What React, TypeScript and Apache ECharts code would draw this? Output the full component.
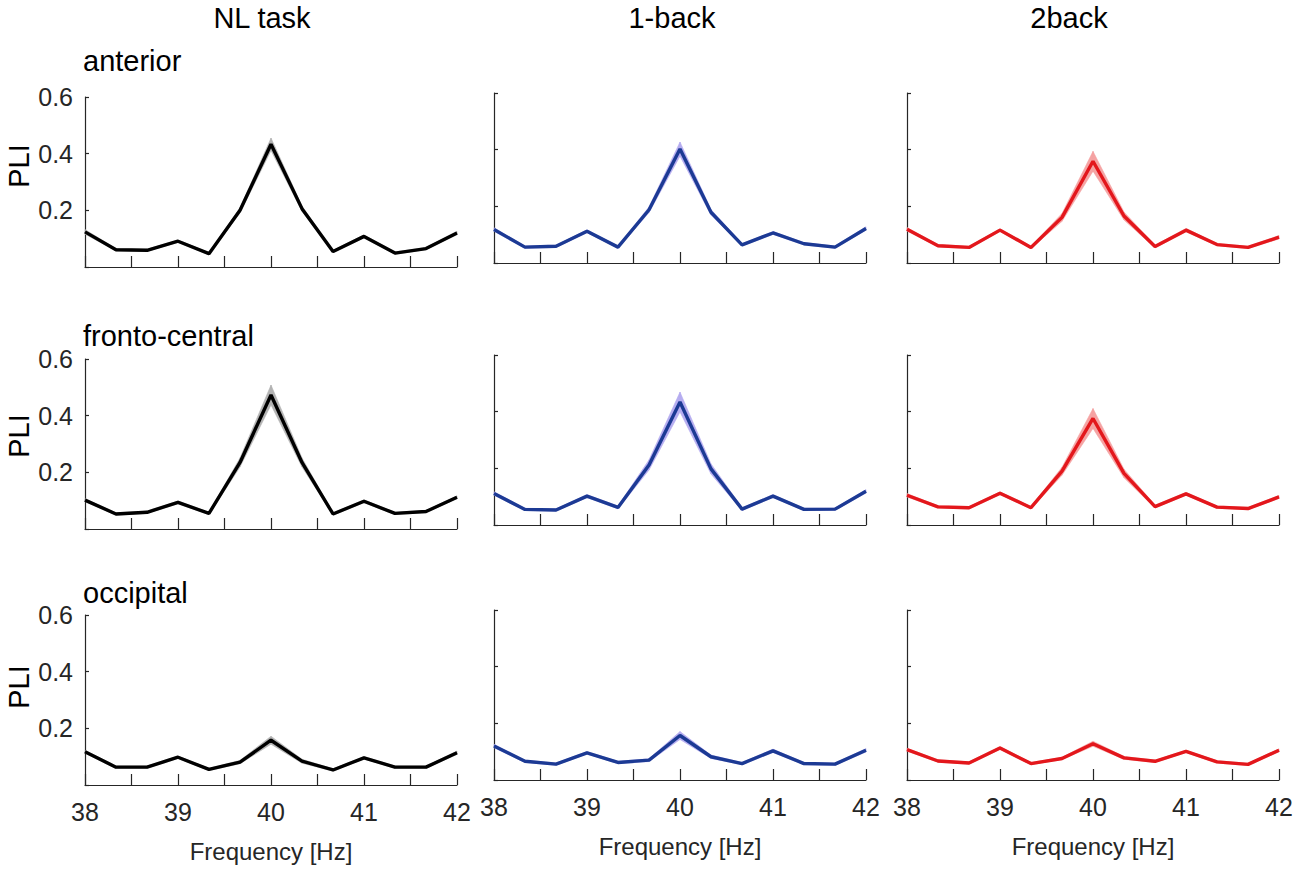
import React, { useEffect, useRef } from "react";
import * as echarts from "echarts";

const freqs = [38, 38.333, 38.667, 39, 39.333, 39.667, 40, 40.333, 40.667, 41, 41.333, 41.667, 42];
const conditions = ["NL task", "1-back", "2back"];
const regions = ["anterior", "fronto-central", "occipital"];
const xTicks = [38, 39, 40, 41, 42];

// mean PLI
const nlAnterior = [0.124, 0.061, 0.059, 0.091, 0.047, 0.2, 0.433, 0.206, 0.055, 0.108, 0.049, 0.065, 0.12];
const oneAnterior = [0.118, 0.056, 0.059, 0.112, 0.056, 0.188, 0.402, 0.179, 0.064, 0.106, 0.068, 0.056, 0.122];
const twoAnterior = [0.119, 0.061, 0.055, 0.116, 0.055, 0.161, 0.359, 0.166, 0.058, 0.116, 0.065, 0.055, 0.091];
const nlFronto = [0.102, 0.053, 0.059, 0.094, 0.055, 0.235, 0.473, 0.235, 0.053, 0.098, 0.055, 0.062, 0.112];
const oneFronto = [0.111, 0.055, 0.053, 0.102, 0.062, 0.212, 0.434, 0.198, 0.056, 0.102, 0.055, 0.056, 0.119];
const twoFronto = [0.105, 0.064, 0.061, 0.112, 0.061, 0.19, 0.376, 0.182, 0.065, 0.11, 0.063, 0.058, 0.099];
const nlOccipital = [0.117, 0.063, 0.063, 0.098, 0.055, 0.081, 0.158, 0.084, 0.053, 0.096, 0.063, 0.063, 0.114];
const oneOccipital = [0.12, 0.066, 0.056, 0.096, 0.062, 0.07, 0.157, 0.082, 0.058, 0.103, 0.058, 0.056, 0.105];
const twoOccipital = [0.107, 0.067, 0.06, 0.113, 0.058, 0.076, 0.128, 0.078, 0.066, 0.101, 0.064, 0.055, 0.105];

// standard error half-widths of the shaded band
const nlAnteriorSem = [0.008, 0.004, 0.004, 0.004, 0.004, 0.009, 0.022, 0.009, 0.004, 0.005, 0.004, 0.004, 0.006];
const oneAnteriorSem = [0.006, 0.004, 0.004, 0.005, 0.004, 0.01, 0.025, 0.01, 0.004, 0.005, 0.004, 0.004, 0.006];
const twoAnteriorSem = [0.006, 0.004, 0.004, 0.005, 0.004, 0.014, 0.035, 0.014, 0.005, 0.006, 0.004, 0.004, 0.006];
const nlFrontoSem = [0.005, 0.004, 0.004, 0.005, 0.004, 0.016, 0.035, 0.016, 0.004, 0.005, 0.004, 0.004, 0.005];
const oneFrontoSem = [0.006, 0.004, 0.004, 0.005, 0.005, 0.018, 0.035, 0.018, 0.005, 0.005, 0.004, 0.004, 0.006];
const twoFrontoSem = [0.006, 0.004, 0.004, 0.005, 0.004, 0.014, 0.035, 0.015, 0.005, 0.005, 0.004, 0.004, 0.005];
const nlOccipitalSem = [0.005, 0.004, 0.004, 0.004, 0.004, 0.006, 0.014, 0.007, 0.004, 0.004, 0.004, 0.004, 0.006];
const oneOccipitalSem = [0.006, 0.004, 0.004, 0.004, 0.004, 0.005, 0.014, 0.006, 0.004, 0.006, 0.004, 0.004, 0.006];
const twoOccipitalSem = [0.005, 0.004, 0.004, 0.005, 0.004, 0.004, 0.009, 0.005, 0.004, 0.004, 0.004, 0.004, 0.005];

const means = [
  [nlAnterior, oneAnterior, twoAnterior],
  [nlFronto, oneFronto, twoFronto],
  [nlOccipital, oneOccipital, twoOccipital],
];
const sems = [
  [nlAnteriorSem, oneAnteriorSem, twoAnteriorSem],
  [nlFrontoSem, oneFrontoSem, twoFrontoSem],
  [nlOccipitalSem, oneOccipitalSem, twoOccipitalSem],
];

const lineColors = ["#000000", "#1c3a94", "#e3171c"];
const bandColors = ["#b3b3b3", "#b6adf0", "#f5a3a3"];

const FONT = "'Liberation Sans', Arial, Helvetica, sans-serif";
const AXIS = "#262626";

const colLeft = [85, 494, 907];
const rowTop = [
  [97, 93, 93],
  [359, 355, 355],
  [615, 610, 610],
];
const GW = 372;
const GH = 170;

export default function App() {
  const ref = useRef<HTMLDivElement>(null);
  useEffect(() => {
    if (!ref.current) return;
    const chart = echarts.init(ref.current, undefined, { renderer: "svg" });
    const grid: any[] = [];
    const xAxis: any[] = [];
    const yAxis: any[] = [];
    const series: any[] = [];
    let idx = 0;
    for (let r = 0; r < 3; r++) {
      for (let c = 0; c < 3; c++) {
        grid.push({ left: colLeft[c], top: rowTop[r][c], width: GW, height: GH, containLabel: false });
        const bottom = r === 2;
        xAxis.push({
          type: "value",
          gridIndex: idx,
          min: 38,
          max: 42,
          interval: 0.5,
          axisLine: { show: true, lineStyle: { color: AXIS, width: 1.2 } },
          axisTick: { show: true, inside: true, length: 11, lineStyle: { color: AXIS, width: 1.2 } },
          splitLine: { show: false },
          axisLabel: {
            show: bottom,
            margin: 14,
            fontSize: 25,
            fontFamily: FONT,
            color: AXIS,
            formatter: (v: number) => (xTicks.indexOf(Math.round(v * 1000) / 1000) >= 0 ? String(v) : ""),
          },
          name: bottom ? "Frequency [Hz]" : "",
          nameLocation: "middle",
          nameGap: 54,
          nameTextStyle: { fontSize: 24, fontFamily: FONT, color: AXIS },
        });
        yAxis.push({
          type: "value",
          gridIndex: idx,
          min: 0,
          max: 0.6,
          interval: 0.2,
          axisLine: { show: true, lineStyle: { color: AXIS, width: 1.2 } },
          axisTick: { show: true, inside: true, length: 4, lineStyle: { color: AXIS, width: 1.2 } },
          splitLine: { show: false },
          axisLabel: {
            show: c === 0,
            margin: 12,
            fontSize: 25,
            fontFamily: FONT,
            color: AXIS,
            formatter: (v: number) => (v < 0.01 ? "" : v.toFixed(1)),
          },
        });
        const m = means[r][c];
        const s = sems[r][c];
        const bandData = freqs.map((f, i) => [f, m[i] - s[i], m[i] + s[i]]);
        const mean = freqs.map((f, i) => [f, m[i]]);
        const fill = bandColors[c];
        series.push({
          type: "custom",
          xAxisIndex: idx,
          yAxisIndex: idx,
          data: bandData,
          encode: { x: 0, y: [1, 2] },
          silent: true,
          z: 1,
          renderItem: (params: any, api: any) => {
            const i = params.dataIndex;
            if (i >= bandData.length - 1) return null;
            const a = bandData[i];
            const b = bandData[i + 1];
            const p1 = api.coord([a[0], a[2]]);
            const p2 = api.coord([b[0], b[2]]);
            const p3 = api.coord([b[0], b[1]]);
            const p4 = api.coord([a[0], a[1]]);
            return {
              type: "polygon",
              shape: { points: [p1, p2, p3, p4] },
              style: { fill, stroke: fill, lineWidth: 0.6 },
            };
          },
        });
        series.push({
          type: "line",
          xAxisIndex: idx,
          yAxisIndex: idx,
          data: mean,
          symbol: "none",
          clip: false,
          lineStyle: { color: lineColors[c], width: 3.4 },
          z: 3,
        });
        idx++;
      }
    }

    const titleX = [262, 672, 1069];
    const regionY = [61, 336, 593];
    const pliY = [166, 436, 687];
    const graphic: any[] = [];
    conditions.forEach((t, i) => {
      graphic.push({
        type: "text",
        x: titleX[i],
        y: 18,
        style: { text: t, fontSize: 29, fontFamily: FONT, fill: "#000", align: "center", verticalAlign: "middle" },
      });
    });
    regions.forEach((t, i) => {
      graphic.push({
        type: "text",
        x: 83,
        y: regionY[i],
        style: { text: t, fontSize: 29, fontFamily: FONT, fill: "#000", align: "left", verticalAlign: "middle" },
      });
      graphic.push({
        type: "text",
        x: 19,
        y: pliY[i],
        rotation: Math.PI / 2,
        style: { text: "PLI", fontSize: 29, fontFamily: FONT, fill: "#000", align: "center", verticalAlign: "middle" },
      });
    });

    chart.setOption({
      animation: false,
      backgroundColor: "#ffffff",
      grid,
      xAxis,
      yAxis,
      series,
      graphic,
    });
    return () => chart.dispose();
  }, []);
  return (
    <div
      ref={ref}
      style={{ position: "fixed", left: 0, top: 0, width: 1300, height: 875, background: "#fff" }}
    />
  );
}
